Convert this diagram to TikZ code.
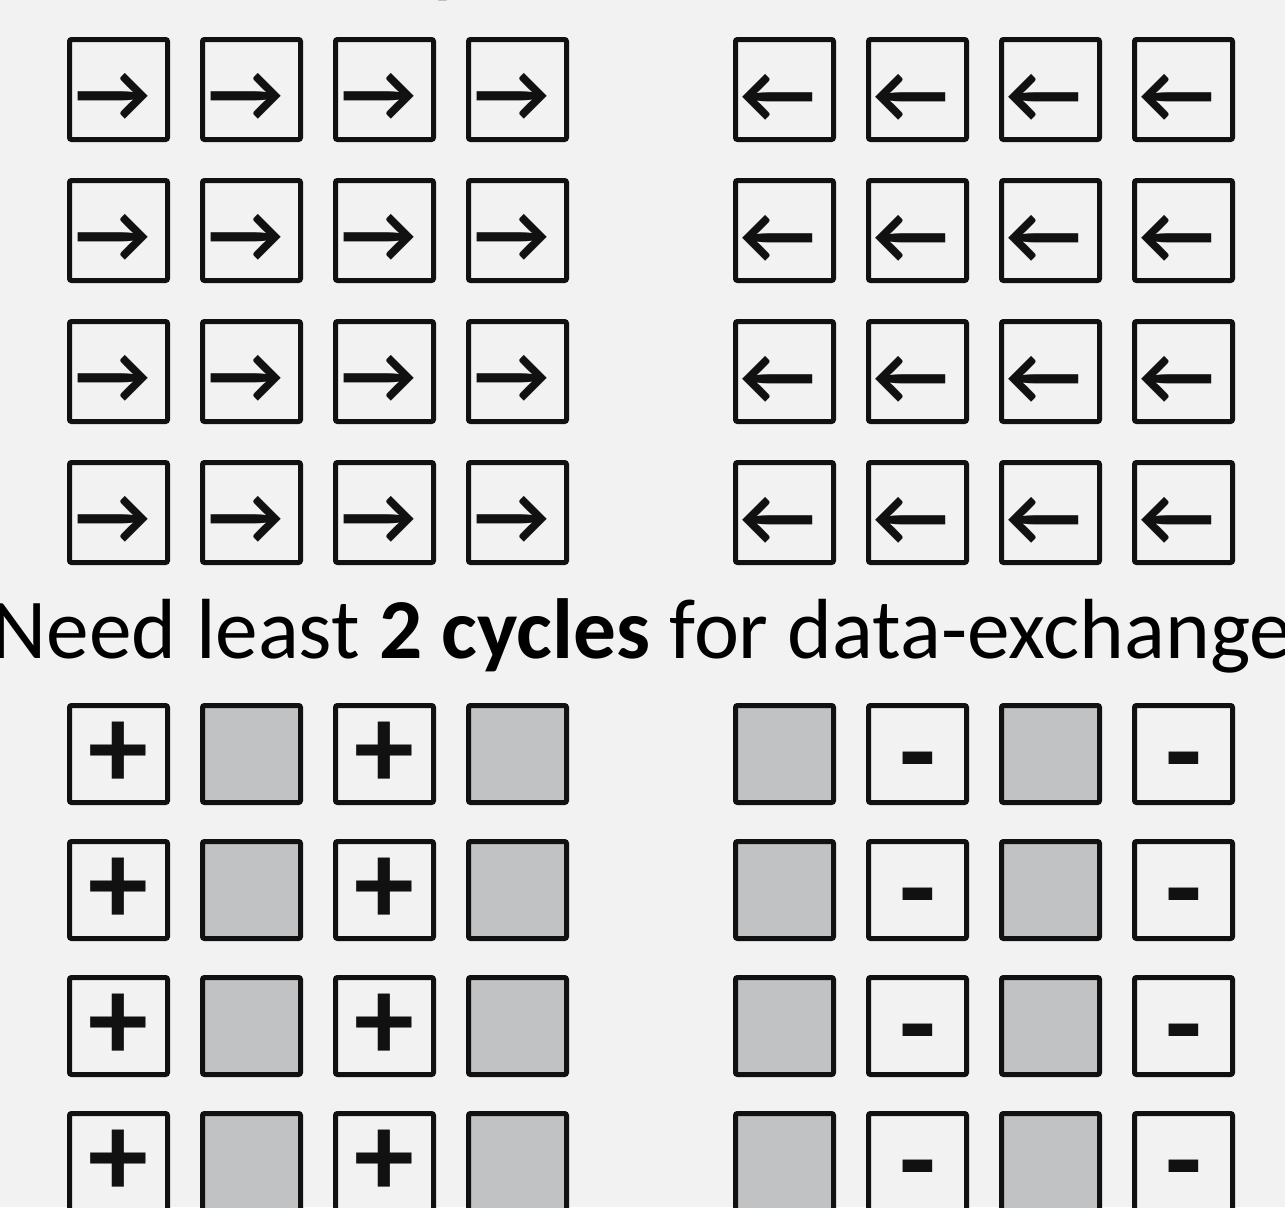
\documentclass[tikz,border=0pt]{standalone}
\usepackage{fontspec}
\setmainfont{Carlito}
\usetikzlibrary{positioning}
\definecolor{bgcolor}{HTML}{F2F2F2}
\definecolor{cellgray}{HTML}{C1C2C4}
\definecolor{ink}{HTML}{111111}

\begin{document}
\begin{tikzpicture}[
    x=0.75pt, y=-0.75pt,
    cell/.style={rectangle, draw=ink, line width=3.75pt, rounded corners=1.5pt, minimum width=73.5pt, minimum height=75pt, inner sep=0pt, fill=bgcolor},
    slot/.style={cell, minimum height=72.75pt},
    busy/.style={slot, fill=cellgray},
    glyph/.style={inner sep=0pt, text=ink, font=\fontsize{90}{90}\selectfont\bfseries},
    arrowglyph/.style={inner sep=0pt, text=ink, font=\fontsize{62}{62}\selectfont\bfseries}
  ]
  % Canvas
  \useasboundingbox[fill=bgcolor] (0,0) rectangle (1285,1207);

  % Cut-off line above
  \node[anchor=base west, inner sep=0pt, font=\fontsize{63}{63}\selectfont\bfseries] (topcut) at (430,-13) {y};

  % Top grid: shifting data
  \foreach \r in {0,...,3} {
    \foreach \c in {0,...,3} {
      \node[cell] (send\r\c) at (118.5+133*\c, 89.5+141*\r) {};
      \node[arrowglyph] (sendarr\r\c) at ([xshift=-4pt, yshift=-5.8pt]send\r\c.center) {→};
      \node[cell] (recv\r\c) at (784.5+133*\c, 89.5+141*\r) {};
      \node[arrowglyph] (recvarr\r\c) at ([xshift=-4.8pt, yshift=-6.8pt]recv\r\c.center) {←};
    }
  }

  % Caption
  \node[anchor=base, inner sep=0pt, font=\fontsize{64}{64}\selectfont] (caption) at (642,658) {Need least \textbf{2 cycles} for data-exchange};

  % Bottom grid: add / subtract
  \foreach \r in {0,...,3} {
    \foreach \c in {0,2} {
      \node[slot] (add\r\c) at (118.5+133*\c, 754+136*\r) {};
      \node[glyph] (plus\r\c) at ([yshift=-1pt]add\r\c.center) {+};
      \node[busy] (idle\r\c) at (784.5+133*\c, 754+136*\r) {};
    }
    \foreach \c in {1,3} {
      \node[busy] (wait\r\c) at (118.5+133*\c, 754+136*\r) {};
      \node[slot] (sub\r\c) at (784.5+133*\c, 754+136*\r) {};
      \node[glyph] (minus\r\c) at ([yshift=-14pt]sub\r\c.center) {-};
    }
  }
\end{tikzpicture}
\end{document}
